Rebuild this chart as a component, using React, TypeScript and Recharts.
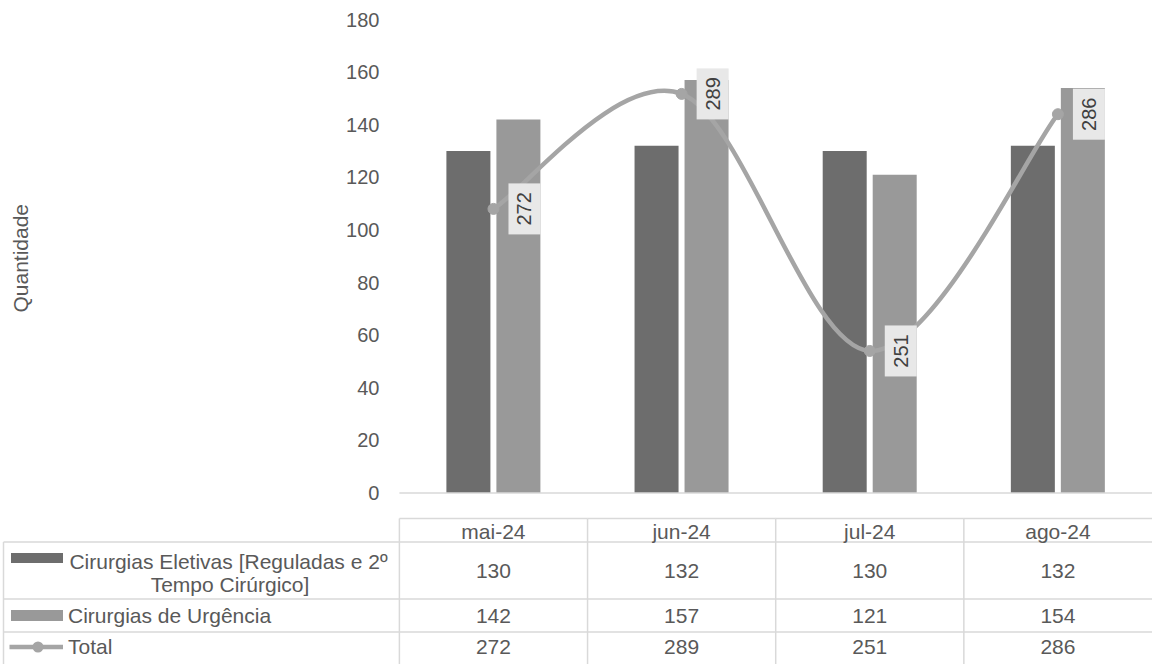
import React from 'react';
import { ComposedChart, Bar, Line, XAxis, YAxis, LabelList } from 'recharts';

// ---- data ----
const months = ['mai-24', 'jun-24', 'jul-24', 'ago-24'];
const eletivas = [130, 132, 130, 132];
const urgencia = [142, 157, 121, 154];
const total = [272, 289, 251, 286];
const yTicks = [0, 20, 40, 60, 80, 100, 120, 140, 160, 180];
const seriesEletivasLines = ['Cirurgias Eletivas [Reguladas e 2º', 'Tempo Cirúrgico]'];
const seriesUrgencia = 'Cirurgias de Urgência';
const seriesTotal = 'Total';
const axisTitle = 'Quantidade';

const data = months.map((m, i) => ({
  month: m,
  eletivas: eletivas[i],
  urgencia: urgencia[i],
  total: total[i],
}));

// ---- layout ----
const W = 1152;
const H = 664;
const MARGIN = { top: 19.5, right: 0, bottom: 0, left: 339.4 };
const Y_AXIS_W = 60;
const X_AXIS_H = 171;
const COL_W = (W - MARGIN.left - Y_AXIS_W - MARGIN.right) / months.length;
const TABLE_LEFT = 3.5;

const C_DARK = '#6d6d6d';
const C_LIGHT = '#999999';
const C_LINE = '#a5a5a5';
const C_GRID = '#d9d9d9';
const C_TEXT = '#595959';
const FONT = '"Liberation Sans", Arial, sans-serif';

// Excel-like smoothed curve (Catmull-Rom as cubic Bezier)
const excelSmooth: any = (context: any) => {
  let pts: [number, number][] = [];
  return {
    areaStart() {},
    areaEnd() {},
    lineStart() {
      pts = [];
    },
    point(x: number, y: number) {
      pts.push([+x, +y]);
    },
    lineEnd() {
      const n = pts.length;
      if (!n) return;
      context.moveTo(pts[0][0], pts[0][1]);
      for (let i = 0; i < n - 1; i++) {
        const p0 = pts[i - 1] || pts[i];
        const p1 = pts[i];
        const p2 = pts[i + 1];
        const p3 = pts[i + 2] || pts[i + 1];
        context.bezierCurveTo(
          p1[0] + (p2[0] - p0[0]) / 6,
          p1[1] + (p2[1] - p0[1]) / 6,
          p2[0] - (p3[0] - p1[0]) / 6,
          p2[1] - (p3[1] - p1[1]) / 6,
          p2[0],
          p2[1]
        );
      }
    },
  };
};

const TotalLabel = (props: any) => {
  const { x, y, value } = props;
  if (x == null || y == null) return null;
  const bx = x + 15;
  const by = y - 25.5;
  return (
    <g>
      <rect x={bx} y={by} width={32} height={51} fill="#e8e8e8" />
      <text
        transform={`translate(${bx + 16},${y}) rotate(-90)`}
        textAnchor="middle"
        dy="0.35em"
        fontSize={20}
        fill="#404040"
        fontFamily={FONT}
      >
        {value}
      </text>
    </g>
  );
};

const TableTick = (props: any) => {
  const { x, y, payload } = props;
  const i = months.indexOf(payload.value);
  if (i < 0) return null;
  const left = x - COL_W / 2;
  const right = x + COL_W / 2;
  const yTop = y + 25.5;
  const yH = y + 49;
  const yR1 = y + 106;
  const yR2 = y + 139;
  const yR3 = y + 172;
  const ts = { fontSize: 21, fill: C_TEXT, fontFamily: FONT } as const;
  const line = { stroke: C_GRID, strokeWidth: 1.5 } as const;
  const hStart = i === 0 ? TABLE_LEFT : left;
  return (
    <g>
      {/* horizontal lines */}
      <line x1={left} x2={right} y1={yTop} y2={yTop} {...line} />
      <line x1={hStart} x2={right} y1={yH} y2={yH} {...line} />
      <line x1={hStart} x2={right} y1={yR1} y2={yR1} {...line} />
      <line x1={hStart} x2={right} y1={yR2} y2={yR2} {...line} />
      <line x1={hStart} x2={right} y1={yR3} y2={yR3} {...line} />
      {/* vertical line (left of column) */}
      <line x1={left} x2={left} y1={yTop} y2={yR3} {...line} />
      {/* cell texts */}
      <text x={x} y={y + 38.5} dy="0.35em" textAnchor="middle" {...ts}>{months[i]}</text>
      <text x={x} y={y + 78} dy="0.35em" textAnchor="middle" {...ts}>{eletivas[i]}</text>
      <text x={x} y={y + 123} dy="0.35em" textAnchor="middle" {...ts}>{urgencia[i]}</text>
      <text x={x} y={y + 154} dy="0.35em" textAnchor="middle" {...ts}>{total[i]}</text>
      {i === 0 && (
        <g>
          <line x1={TABLE_LEFT} x2={TABLE_LEFT} y1={yH} y2={yR3} {...line} />
          {/* legend keys */}
          <rect x={TABLE_LEFT + 7.5} y={y + 60} width={52} height={10} fill={C_DARK} />
          <rect x={TABLE_LEFT + 7.5} y={y + 117} width={52} height={11} fill={C_LIGHT} />
          <line x1={TABLE_LEFT + 6} x2={TABLE_LEFT + 59.5} y1={y + 154} y2={y + 154} stroke={C_LINE} strokeWidth={4.5} />
          <circle cx={TABLE_LEFT + 34.5} cy={y + 154} r={5.5} fill={C_LINE} />
          <text x={228.5} y={y + 68.5} dy="0.35em" textAnchor="middle" {...ts}>{seriesEletivasLines[0]}</text>
          <text x={230} y={y + 92} dy="0.35em" textAnchor="middle" {...ts}>{seriesEletivasLines[1]}</text>
          <text x={TABLE_LEFT + 64.5} y={y + 123} dy="0.35em" textAnchor="start" {...ts}>{seriesUrgencia}</text>
          <text x={TABLE_LEFT + 64.5} y={y + 154} dy="0.35em" textAnchor="start" {...ts}>{seriesTotal}</text>
        </g>
      )}
    </g>
  );
};

const AxisTitle = (props: any) => {
  const vb = props.viewBox || {};
  const cy = (vb.y ?? MARGIN.top) + (vb.height ?? 473) / 2 + 2;
  const cx = 21;
  return (
    <text
      x={cx}
      y={cy}
      transform={`rotate(-90 ${cx} ${cy})`}
      textAnchor="middle"
      dy="0.35em"
      fontSize={21}
      fill={C_TEXT}
      fontFamily={FONT}
    >
      {axisTitle}
    </text>
  );
};

export default function App() {
  return (
    <div
      style={{
        position: 'absolute',
        left: 0,
        top: 0,
        width: W,
        height: H,
        background: '#ffffff',
        fontFamily: FONT,
        overflow: 'hidden',
      }}
    >
      <ComposedChart width={W} height={H} data={data} margin={MARGIN} barGap={6}>
        <XAxis
          dataKey="month"
          height={X_AXIS_H}
          interval={0}
          tickLine={false}
          tickSize={0}
          tickMargin={0}
          axisLine={{ stroke: C_GRID, strokeWidth: 1.5 }}
          tick={<TableTick />}
        />
        <YAxis
          yAxisId="left"
          width={Y_AXIS_W}
          domain={[0, 180]}
          ticks={yTicks}
          interval={0}
          axisLine={false}
          tickLine={false}
          tickSize={0}
          tickMargin={20}
          tick={{ fontSize: 20, fill: C_TEXT, fontFamily: FONT }}
          label={{ value: axisTitle, content: (p: any) => <AxisTitle {...p} /> }}
        />
        <YAxis yAxisId="right" orientation="right" hide domain={[230, 300]} />
        <Bar yAxisId="left" dataKey="eletivas" fill={C_DARK} barSize={44} isAnimationActive={false} />
        <Bar yAxisId="left" dataKey="urgencia" fill={C_LIGHT} barSize={44} isAnimationActive={false} />
        <Line
          yAxisId="right"
          dataKey="total"
          type={excelSmooth}
          stroke={C_LINE}
          strokeWidth={4.5}
          dot={{ r: 5.5, fill: C_LINE, stroke: C_LINE, strokeWidth: 1 }}
          activeDot={false}
          isAnimationActive={false}
        >
          <LabelList dataKey="total" content={TotalLabel} />
        </Line>
      </ComposedChart>
    </div>
  );
}
